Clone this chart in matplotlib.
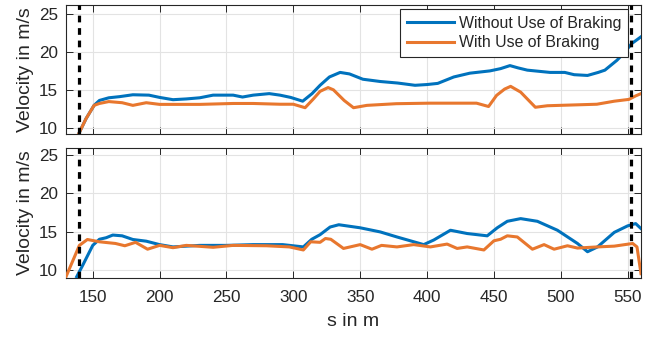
import matplotlib
matplotlib.use("Agg")
import matplotlib.pyplot as plt
import numpy as np

plt.rcParams['font.family'] = ['Liberation Sans', 'DejaVu Sans']

# ---- data ----
s_top_wo = [139.5, 145, 151, 155, 162, 170, 180, 192, 200, 210, 220, 230, 240, 255, 262, 270,
            282, 290, 298, 307, 314, 320, 327, 335, 342, 352, 365, 378, 391, 400, 408, 420,
            432, 447, 455, 462, 468, 475, 492, 503, 510, 520, 528, 533, 542, 548, 553, 560]
v_top_wo = [9.2, 11.2, 12.95, 13.6, 13.95, 14.1, 14.35, 14.3, 14.0, 13.7, 13.8, 13.95, 14.3, 14.3, 14.05, 14.3,
            14.5, 14.3, 14.0, 13.5, 14.5, 15.6, 16.7, 17.3, 17.1, 16.4, 16.1, 15.9, 15.6, 15.7, 15.85, 16.7,
            17.2, 17.5, 17.8, 18.2, 17.9, 17.6, 17.3, 17.3, 17.0, 16.9, 17.3, 17.6, 18.9, 20.0, 21.1, 22.0]

s_top_w = [139.5, 145, 151, 155, 162, 172, 180, 190, 200, 230, 255, 270, 290, 300, 308.8, 315,
           320, 326, 330, 338, 345, 355, 377, 402, 437, 446, 452, 458, 462.5, 470, 481, 490,
           527, 540, 551, 556, 560]
v_top_w = [9.2, 11.2, 12.95, 13.2, 13.45, 13.3, 12.95, 13.3, 13.08, 13.08, 13.2, 13.2, 13.1, 13.1, 12.64, 13.8,
           14.8, 15.3, 15.0, 13.6, 12.64, 12.95, 13.17, 13.24, 13.24, 12.8, 14.27, 15.1, 15.46, 14.7, 12.7, 12.9,
           13.1, 13.5, 13.74, 14.2, 14.5]

s_bot_wo = [138, 142.5, 150, 155, 160, 165, 172, 180, 190, 200, 210, 230, 250, 270, 292, 307.5,
            313.8, 320, 327.5, 334, 350, 365, 377.5, 397.5, 405, 417.5, 430, 445, 452.5, 460, 470, 482.5,
            497.5, 512.5, 520, 527.5, 540, 550, 556, 560]
v_bot_wo = [9.1, 10.6, 13.2, 14.0, 14.2, 14.55, 14.45, 13.97, 13.75, 13.3, 13.0, 13.2, 13.2, 13.3, 13.3, 13.0,
            14.0, 14.6, 15.6, 15.9, 15.5, 14.96, 14.3, 13.3, 13.9, 15.18, 14.75, 14.45, 15.5, 16.35, 16.7, 16.35,
            15.18, 13.45, 12.37, 13.0, 14.9, 15.75, 16.05, 15.4]

s_bot_w = [130, 140, 146, 155, 167, 174, 182, 191, 200, 210, 220, 240, 255, 280, 297, 307.5,
           313, 320, 324, 328, 337.5, 350, 358.8, 366, 377.5, 390, 402.5, 415, 422.5, 430, 442.5, 450,
           455, 460, 467.5, 478.8, 487.5, 495, 505, 512.5, 527.5, 540, 553.8, 557, 560]
v_bot_w = [9.1, 13.2, 13.97, 13.67, 13.45, 13.15, 13.6, 12.7, 13.2, 12.9, 13.2, 12.95, 13.2, 13.15, 13.0, 12.6,
           13.67, 13.6, 14.1, 14.0, 12.8, 13.3, 12.7, 13.2, 13.0, 13.3, 13.0, 13.37, 12.8, 13.0, 12.6, 13.8,
           14.0, 14.45, 14.3, 12.7, 13.3, 12.7, 13.15, 12.85, 13.0, 13.1, 13.45, 13.0, 9.5]

marker_s = [139.5, 552.5]
labels = ['Without Use of Braking', 'With Use of Braking']
xticks = [150, 200, 250, 300, 350, 400, 450, 500, 550]
yticks = [10, 15, 20, 25]

# ---- style ----
BLUE = '#0072BD'
ORANGE = '#E8772E'
TXT = '#262626'
W, H = 656, 337
fig = plt.figure(figsize=(W / 100, H / 100), dpi=100)

def px_axes(x0, y0, x1, y1):
    return fig.add_axes([x0 / W, 1 - y1 / H, (x1 - x0) / W, (y1 - y0) / H])

ax1 = px_axes(66, 5, 641, 134)
ax2 = px_axes(66, 147.5, 641, 277.5)

for ax, (sw, vw), (s2, v2), ylim in [
        (ax1, (s_top_wo, v_top_wo), (s_top_w, v_top_w), (9.17, 26.2)),
        (ax2, (s_bot_wo, v_bot_wo), (s_bot_w, v_bot_w), (9.0, 26.0))]:
    ax.plot(sw, vw, color=BLUE, lw=2.2, label=labels[0], solid_joinstyle='round', zorder=3)
    ax.plot(s2, v2, color=ORANGE, lw=2.2, label=labels[1], solid_joinstyle='round', zorder=3)
    for m in marker_s:
        ax.axvline(m, color='black', lw=2.3, linestyle=(0, (2.1, 1.8)), zorder=4)
    ax.set_xlim(130, 560)
    ax.set_ylim(*ylim)
    ax.set_xticks(xticks)
    ax.set_yticks(yticks)
    ax.grid(True, color='#E3E3E3', lw=0.8, zorder=0)
    ax.set_axisbelow(True)
    ax.tick_params(direction='in', top=True, right=True, length=5, width=0.7,
                   colors=TXT, labelsize=12.3)
    ax.tick_params(axis='y', pad=6)
    ax.tick_params(axis='x', pad=9)
    for sp in ax.spines.values():
        sp.set_color(TXT)
        sp.set_linewidth(0.8)
    ax.set_ylabel('Velocity in m/s', fontsize=14, color=TXT, labelpad=3)

ax1.tick_params(labelbottom=False)
ax2.set_xlabel('s in m', fontsize=14, color=TXT, labelpad=6)

leg = ax1.legend(loc='upper right', bbox_to_anchor=(0.977, 0.969), borderaxespad=0,
                 fontsize=11.4, frameon=True, fancybox=False, handlelength=3.0,
                 handletextpad=0.28, borderpad=0.42, labelspacing=0.3)
leg.get_frame().set_edgecolor('#262626')
leg.get_frame().set_linewidth(0.8)
leg.get_frame().set_alpha(1)
for t in leg.get_texts():
    t.set_color(TXT)

fig.savefig('out.png', dpi=100)
